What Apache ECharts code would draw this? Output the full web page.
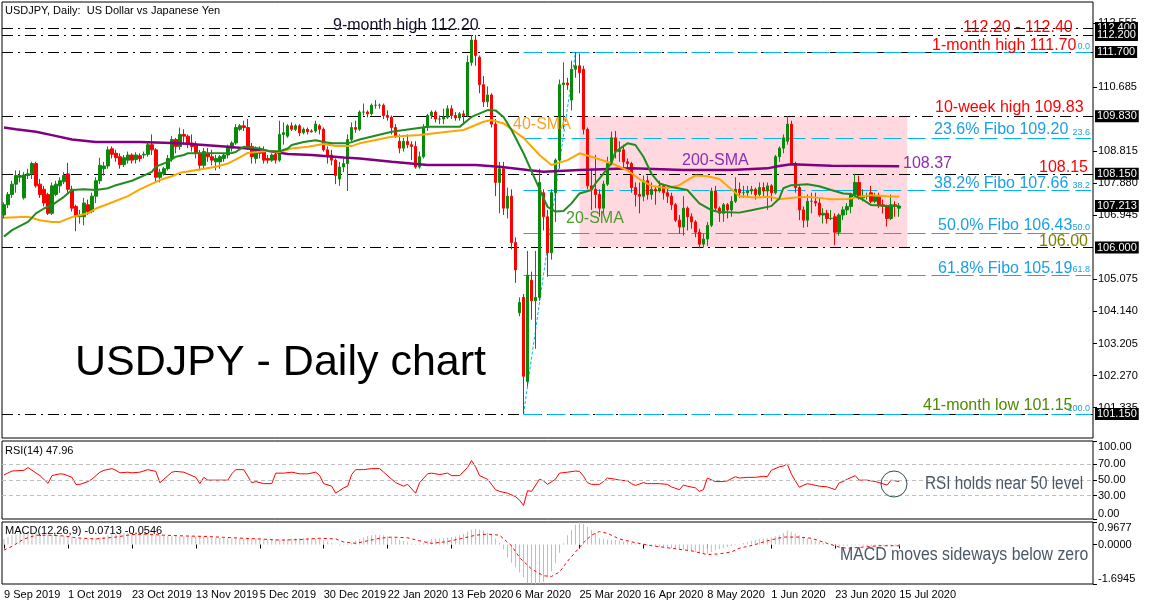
<!DOCTYPE html>
<html><head><meta charset="utf-8">
<script src="https://cdn.jsdelivr.net/npm/echarts@6/dist/echarts.min.js"></script>
<style>html,body{margin:0;padding:0;background:#fff;}#c{width:1149px;height:607px;}</style>
</head><body><div id="c"></div>
<script>
// ---------------- DATA ----------------
// daily candles: [open, close, low, high]
const candles = [
[106.95,107.25,106.85,107.32],[107.25,107.55,107.15,107.62],[107.55,107.85,107.45,107.95],[107.85,108.10,107.60,108.25],[108.05,108.10,107.90,108.25],
[107.45,108.12,107.40,108.20],[108.10,108.15,108.00,108.30],[108.15,108.45,108.00,108.50],[108.45,107.80,107.75,108.50],[107.85,107.55,107.45,108.00],
[107.70,107.30,107.20,107.80],[107.55,107.00,106.95,107.60],[107.00,107.80,106.95,107.90],[107.55,107.85,107.50,107.95],[107.80,107.95,107.60,108.05],
[107.92,108.10,107.85,108.20],[108.15,107.70,107.60,108.47],[107.70,107.15,107.05,107.80],[107.20,106.90,106.48,107.25],[106.90,106.95,106.70,107.10],
[106.90,107.30,106.65,107.45],[107.25,107.05,106.95,107.40],[107.05,107.50,107.00,107.60],[107.50,107.95,107.30,108.05],[107.95,108.40,107.85,108.62],
[108.30,108.38,108.10,108.50],[108.38,108.85,108.30,108.95],[108.88,108.72,108.60,108.95],[108.75,108.62,108.50,108.85],[108.65,108.42,108.30,108.75],
[108.42,108.62,108.35,108.70],[108.55,108.70,108.45,108.80],[108.70,108.55,108.45,108.75],[108.57,108.70,108.45,108.78],[108.68,108.60,108.50,108.75],
[108.70,108.72,108.60,108.80],[108.72,109.00,108.65,109.10],[109.00,108.85,108.70,109.30],[108.85,108.05,107.90,108.90],[108.05,108.20,107.90,108.30],
[108.15,108.30,108.10,108.35],[108.30,108.60,108.25,108.70],[108.60,109.15,108.50,109.25],[109.15,108.95,108.75,109.20],[108.95,109.30,108.85,109.50],
[109.30,109.25,109.00,109.45],[109.25,109.05,108.90,109.30],[109.05,108.95,108.80,109.30],[109.00,108.75,108.60,109.10],[108.75,108.40,108.25,108.85],
[108.40,108.80,108.30,108.90],[108.75,108.65,108.50,108.90],[108.65,108.55,108.40,108.85],[108.50,108.60,108.25,108.70],[108.50,108.65,108.30,108.70],
[108.60,108.70,108.50,108.75],[108.70,108.95,108.60,109.00],[108.90,109.05,108.80,109.10],[109.05,109.50,109.00,109.60],[109.45,109.55,109.40,109.60],
[109.55,109.50,109.40,109.70],[109.50,108.90,108.85,109.75],[108.95,108.65,108.45,109.05],[108.60,108.85,108.45,108.95],[108.85,108.75,108.60,108.95],
[108.78,108.55,108.45,108.95],[108.60,108.55,108.45,108.70],[108.55,108.70,108.50,108.75],[108.72,108.55,108.45,108.80],[108.55,109.30,108.50,109.70],
[109.30,109.35,109.00,109.65],[109.25,109.55,109.20,109.60],[109.55,109.45,109.40,109.65],[109.45,109.55,109.40,109.60],[109.55,109.35,109.25,109.60],
[109.35,109.45,109.30,109.50],[109.45,109.38,109.30,109.50],[109.40,109.38,109.35,109.45],[109.40,109.60,109.35,109.70],[109.55,109.45,109.30,109.60],
[109.45,108.85,108.80,109.50],[108.85,108.65,108.45,108.95],[108.70,108.55,108.40,108.85],[108.55,108.10,107.85,108.60],[108.00,108.35,107.80,108.50],
[108.35,108.45,108.20,108.60],[108.45,109.15,107.65,109.30],[109.15,109.50,109.10,109.65],[109.50,109.45,109.35,109.70],[109.45,109.95,109.40,110.00],
[109.95,109.95,109.85,110.20],[109.95,109.90,109.80,110.00],[109.90,110.15,109.85,110.20],[110.15,110.15,110.05,110.30],[110.15,110.15,110.05,110.20],
[110.15,109.85,109.75,110.20],[109.85,109.80,109.70,110.00],[109.80,109.50,109.30,109.85],[109.50,109.25,109.20,109.60],[109.10,108.90,108.75,109.30],
[108.90,109.10,108.80,109.20],[109.10,109.00,108.90,109.30],[109.00,108.95,108.55,109.10],[108.95,108.35,108.30,109.10],[108.35,108.65,108.30,108.80],
[108.65,109.50,108.60,109.60],[109.50,109.85,109.40,109.90],[109.85,109.95,109.75,110.00],[109.95,109.75,109.65,110.00],[109.75,109.75,109.60,109.85],
[109.75,109.80,109.60,110.05],[109.80,110.05,109.75,110.15],[110.05,109.85,109.75,110.15],[109.85,109.78,109.70,109.95],[109.78,109.90,109.70,109.95],
[109.90,109.85,109.60,110.00],[109.85,111.40,109.80,111.60],[111.40,112.05,111.30,112.20],[112.05,111.60,111.30,112.20],[111.55,110.75,110.50,111.60],
[110.75,110.25,110.10,111.00],[110.25,110.45,110.10,110.70],[110.45,109.60,109.50,110.50],[109.60,107.90,107.50,109.75],[107.90,108.30,107.00,108.50],
[108.30,107.15,106.95,108.50],[107.15,107.50,106.85,107.75],[107.50,106.15,105.95,107.70],[106.15,105.35,104.97,106.30],[104.10,104.40,104.00,104.55],
[104.55,102.25,101.15,104.65],[102.10,105.20,101.95,105.90],[105.05,104.45,103.90,105.30],[104.45,104.55,103.05,105.90],[104.55,107.90,104.45,108.30],
[107.60,106.90,106.50,107.70],[106.90,105.85,105.15,107.10],[105.85,107.60,105.65,107.70],[107.60,108.55,106.75,108.60],[108.55,110.75,108.30,110.90],
[110.75,110.80,109.45,111.40],[110.80,110.75,110.60,110.95],[110.30,111.20,110.00,111.45],[111.20,111.30,110.95,111.70],[111.30,111.10,110.50,111.66],
[111.20,109.45,109.30,111.30],[109.45,107.80,107.70,109.50],[107.80,107.70,107.10,108.30],[107.70,107.55,107.15,108.70],[107.55,107.15,106.90,107.70],
[107.15,107.85,106.95,107.95],[107.85,108.45,107.80,108.65],[108.45,109.20,108.40,109.38],[109.20,108.80,108.60,109.40],[108.80,108.85,108.50,109.10],
[108.85,108.50,108.30,109.00],[108.50,108.45,108.30,108.60],[108.45,107.75,107.60,108.50],[107.75,107.55,107.20,107.90],[107.55,107.50,107.00,107.90],
[107.50,107.95,107.35,108.10],[107.95,107.55,107.40,108.10],[107.55,107.70,107.40,107.90],[107.70,107.65,107.25,107.80],[107.65,107.80,107.60,107.95],
[107.80,107.60,107.40,107.85],[107.60,107.50,107.30,107.75],[107.50,107.25,107.10,107.60],[107.25,106.80,106.75,107.30],[106.80,106.60,106.40,106.95],
[106.60,107.15,106.35,107.50],[107.15,106.90,106.50,107.20],[106.90,106.75,106.55,107.00],[106.75,106.45,106.30,106.80],[106.45,106.10,105.98,106.55],
[106.10,106.25,106.00,106.40],[106.25,106.65,106.05,106.75],[106.65,107.65,106.60,107.75],[107.65,107.15,107.05,107.80],[107.15,107.00,106.75,107.20],
[107.00,107.25,106.75,107.30],[107.25,107.10,106.85,107.30],[107.10,107.35,106.90,107.50],[107.35,107.70,107.30,108.05],[107.70,107.60,107.45,107.90],
[107.60,107.60,107.45,107.80],[107.60,107.65,107.50,107.80],[107.65,107.70,107.55,107.80],[107.70,107.55,107.40,107.75],[107.55,107.75,107.50,107.90],
[107.75,107.65,107.50,107.90],[107.65,107.80,107.10,107.90],[107.80,107.60,107.35,107.85],[107.60,108.65,107.55,108.70],[108.65,108.90,108.50,108.95],
[108.90,109.20,108.75,109.30],[109.10,109.60,109.00,109.83],[109.60,108.45,108.40,109.70],[108.45,107.75,107.60,108.50],[107.75,107.10,106.80,107.85],
[107.10,106.80,106.58,107.20],[106.80,107.35,106.60,107.55],[107.35,107.35,107.00,107.60],[107.35,107.30,107.20,107.60],[107.30,106.95,106.90,107.45],
[106.95,107.00,106.70,107.15],[107.00,106.85,106.70,107.10],[106.85,106.85,106.80,107.10],[106.90,106.45,106.07,107.00],[106.45,106.95,106.35,107.00],
[106.95,107.10,106.80,107.20],[107.10,107.20,106.95,107.30],[107.20,107.55,107.00,107.60],[107.55,107.90,107.45,108.15],[107.90,107.45,107.40,108.10],
[107.45,107.50,107.35,107.70],[107.50,107.50,107.40,107.60],[107.60,107.35,107.30,107.80],[107.35,107.50,107.30,107.60],[107.50,107.25,107.15,107.60],
[107.25,107.20,107.00,107.40],[107.20,106.85,106.62,107.25],[106.85,107.25,106.80,107.55],[107.25,107.20,106.90,107.35],[107.15,107.213,106.90,107.30]
];
// moving averages: [bar index, value]
const sma20 = [[0,106.32],[2,106.51],[6,106.75],[8,107.0],[10,107.14],[12,107.24],[15,107.48],[17,107.68],[20,107.7],[23,107.68],[26,107.73],[28,107.82],[32,107.95],[34,108.05],[37,108.21],[38,108.36],[41,108.5],[43,108.65],[45,108.7],[46,108.75],[57,108.76],[58,108.79],[60,108.94],[64,108.89],[66,108.82],[69,108.81],[71,108.89],[72,108.99],[75,109.08],[78,109.13],[80,109.08],[82,109.04],[86,109.04],[89,109.15],[97,109.38],[106,109.52],[114,109.52],[117,109.81],[121,110.01],[123,110.0],[125,109.81],[127,109.43],[130,108.75],[133,107.97],[135,107.44],[136,107.19],[138,107.05],[140,107.07],[142,107.29],[144,107.58],[147,107.68],[148,107.87],[150,108.16],[152,108.46],[153,108.79],[156,109.04],[158,108.99],[160,108.65],[162,108.16],[164,107.87],[167,107.77],[171,107.68],[174,107.29],[177,107.09],[179,107.04],[184,107.02],[187,107.09],[192,107.21],[194,107.43],[195,107.73],[197,107.82],[201,107.85],[204,107.79],[207,107.68],[210,107.58],[212,107.56],[215,107.39],[217,107.24],[221,107.21],[224,107.21]];
const sma40 = [[0,106.87],[6,106.9],[9,106.8],[12,106.75],[14,106.75],[17,106.89],[21,107.0],[23,107.14],[26,107.27],[31,107.5],[34,107.7],[39,107.97],[42,108.08],[44,108.18],[49,108.28],[53,108.36],[56,108.45],[59,108.63],[61,108.76],[66,108.82],[69,108.79],[72,108.89],[76,108.94],[80,109.02],[83,108.96],[87,108.96],[89,109.04],[97,109.23],[104,109.28],[111,109.38],[115,109.43],[120,109.67],[122,109.72],[125,109.62],[130,109.2],[134,108.7],[137,108.41],[141,108.55],[144,108.75],[147,108.65],[152,108.46],[156,108.25],[159,108.0],[162,107.8],[166,107.73],[169,107.82],[171,107.97],[173,108.1],[176,108.08],[179,108.0],[182,107.7],[184,107.5],[188,107.46],[192,107.48],[194,107.41],[198,107.46],[201,107.48],[204,107.45],[207,107.41],[211,107.42],[214,107.48],[217,107.53],[221,107.5],[224,107.48]];
const sma200 = [[0,109.5],[3,109.45],[8,109.38],[12,109.28],[17,109.15],[23,109.08],[34,109.08],[44,109.04],[50,108.99],[56,108.94],[61,108.89],[66,108.82],[71,108.73],[77,108.7],[85,108.63],[89,108.6],[97,108.5],[106,108.41],[118,108.41],[124,108.36],[131,108.26],[135,108.21],[144,108.26],[157,108.31],[170,108.26],[182,108.26],[191,108.31],[194,108.38],[197,108.43],[207,108.39],[224,108.37]];
// RSI(14): [bar index, value]
const rsi = [[0,56.5],[2,61.5],[5,62.4],[6,66],[8,59],[9,55.6],[11,45.7],[12,55.6],[14,57.9],[15,57.4],[17,53.4],[18,44.4],[19,44.4],[21,48],[22,51],[24,60],[25,62.4],[27,64.6],[28,62.4],[29,59.2],[31,60],[32,59.2],[34,60],[36,63.3],[38,61],[39,46.6],[40,51],[42,60],[43,61],[45,60],[46,57.9],[48,53.4],[49,45.3],[50,53.4],[51,49.8],[53,49.8],[56,49.8],[57,57.9],[58,63.3],[60,63.3],[62,46.6],[63,48],[65,45.3],[67,45.3],[68,58.8],[70,58.8],[72,60],[74,57.9],[76,57.9],[78,60],[79,55.6],[80,45.3],[82,42.1],[83,33.1],[85,39.9],[86,42.1],[87,57],[88,63.3],[90,63.3],[92,64.6],[94,64.6],[95,60],[97,51],[98,46.6],[100,42.1],[101,44.4],[103,33.1],[104,46.6],[106,57.9],[107,58.8],[109,57],[111,58.8],[112,55.6],[114,55.6],[116,66],[117,74.9],[118,66.9],[119,55.6],[121,51],[123,37.6],[124,35.4],[126,33.1],[128,28.7],[129,24.2],[130,17.4],[131,36.3],[132,35.4],[134,51],[135,48.9],[136,44.4],[138,51],[139,58.8],[141,60],[143,61.5],[144,61],[145,55],[146,46.6],[147,44.4],[149,44.4],[150,48],[151,52.5],[153,51],[154,49.8],[156,48.9],[157,45.3],[158,43],[160,46.6],[161,45.3],[162,45.3],[164,45.3],[166,44.4],[167,41.2],[169,37.6],[170,43.5],[171,42.1],[173,39.9],[174,35.4],[175,37.6],[176,52.5],[178,48],[180,48],[181,48.9],[183,54.3],[184,52.5],[186,53.4],[188,53.4],[190,54.7],[191,54.3],[192,62.4],[194,66.9],[195,68],[196,70.4],[197,58],[198,48.9],[199,40.8],[201,45.3],[202,44.4],[204,42.1],[206,41.2],[208,37.6],[209,46.6],[210,48],[211,51],[213,55.6],[214,49.8],[216,49.8],[218,48],[219,46.6],[221,43.5],[222,49.8],[223,48.9],[224,47.96]];
// MACD(12,26,9) main line, one value per bar (drawn as histogram)
const macdHist = [0.24,0.32,0.40,0.44,0.48,0.50,0.52,0.51,0.49,0.48,0.45,0.42,0.40,0.39,0.38,0.37,0.34,0.30,0.27,0.25,
0.24,0.24,0.26,0.28,0.31,0.35,0.39,0.43,0.45,0.47,0.48,0.48,0.47,0.47,0.46,0.45,0.45,0.43,0.41,0.40,
0.38,0.37,0.36,0.36,0.35,0.36,0.37,0.37,0.36,0.35,0.34,0.32,0.30,0.29,0.28,0.27,0.27,0.27,0.27,0.27,
0.27,0.27,0.27,0.25,0.24,0.23,0.22,0.21,0.22,0.23,0.24,0.25,0.26,0.27,0.28,0.29,0.29,0.28,0.26,0.24,
0.19,0.13,0.08,0.01,-0.05,-0.02,0.03,0.08,0.16,0.24,0.30,0.37,0.40,0.43,0.42,0.40,0.36,0.31,0.27,0.21,
0.16,0.11,0.04,-0.02,0.03,0.08,0.16,0.24,0.25,0.26,0.27,0.30,0.32,0.35,0.40,0.46,0.56,0.63,0.68,0.65,
0.60,0.52,0.43,0.25,0.08,-0.20,-0.56,-0.78,-0.97,-1.20,-1.42,-1.66,-1.68,-1.6945,-1.69,-1.60,-1.40,-1.15,-0.80,-0.35,
0.05,0.40,0.62,0.85,0.9677,0.88,0.75,0.62,0.50,0.27,0.25,0.21,0.20,0.19,0.16,0.13,0.10,0.08,0.05,0.02,
0.00,-0.03,-0.05,-0.07,-0.09,-0.11,-0.13,-0.15,-0.16,-0.19,-0.22,-0.24,-0.28,-0.32,-0.36,-0.40,-0.40,-0.32,-0.24,-0.20,
-0.16,-0.11,-0.07,-0.03,0.02,0.07,0.12,0.16,0.20,0.24,0.25,0.27,0.30,0.36,0.40,0.50,0.60,0.55,0.47,0.40,
0.33,0.27,0.21,0.16,0.12,0.08,0.05,0.02,-0.05,-0.06,-0.05,-0.05,-0.04,-0.03,-0.04,-0.05,-0.06,-0.08,-0.08,-0.07,
-0.05,-0.08,-0.07,-0.07,-0.0713];
// MACD signal line: [bar index, value]
const macdSignal = [[0,-0.24],[2,-0.08],[5,0.24],[8,0.40],[11,0.40],[15,0.37],[18,0.29],[23,0.24],[28,0.32],[32,0.43],[36,0.45],[40,0.40],[45,0.37],[50,0.35],[55,0.31],[60,0.27],[64,0.24],[69,0.19],[74,0.21],[79,0.27],[83,0.24],[85,0.11],[88,0.05],[91,0.16],[94,0.27],[97,0.32],[101,0.29],[104,0.16],[107,0.05],[111,0.13],[114,0.24],[118,0.40],[121,0.45],[124,0.40],[127,-0.05],[129,-0.56],[132,-1.05],[135,-1.34],[137,-1.37],[139,-1.18],[141,-0.72],[143,-0.32],[145,0.08],[147,0.40],[149,0.56],[151,0.48],[154,0.24],[158,0.08],[162,-0.05],[167,-0.16],[172,-0.27],[176,-0.43],[179,-0.40],[182,-0.32],[184,-0.16],[188,0],[191,0.16],[195,0.32],[199,0.32],[202,0.27],[206,0.05],[209,-0.11],[211,-0.16],[215,-0.11],[219,-0.05],[224,-0.0546]];

// axis tick labels
const dateTickLabels = ['9 Sep 2019','1 Oct 2019','23 Oct 2019','13 Nov 2019','5 Dec 2019','30 Dec 2019','22 Jan 2020','13 Feb 2020','6 Mar 2020','25 Mar 2020','16 Apr 2020','8 May 2020','1 Jun 2020','23 Jun 2020','15 Jul 2020'];
const dateTickStep = 16;
const priceTicks = [112.555,110.685,108.815,107.880,106.945,105.075,104.140,103.205,102.270,101.335];
const priceMarksA = [112.400,111.700,108.150,106.000];
const priceMarksB = [112.200,109.830,107.213,101.150];
const rsiTicksMid = [70,50,30], rsiTickTop = [100], rsiTickBottom = [0];
const rsiLevels = [70,50,30];
const macdTickMid = [0], macdTickTop = [0.9677], macdTickBottom = [-1.6945];

// annotated levels
const keyLevels = [112.40,112.20,111.70,109.83,108.15,106.00,101.15];
const fiboLevels = [{r:'0.0',p:111.70},{r:'23.6',p:109.20},{r:'38.2',p:107.66},{r:'50.0',p:106.43},{r:'61.8',p:105.19},{r:'100.0',p:101.15}];
const fiboLow = {i:130,p:101.15}, fiboHigh = {i:143,p:111.70};
const rangeBox = {from:144,to:226,top:109.83,bottom:106.00};

// ---------------- CHART ----------------
const N_SLOTS = 273;
const cats = Array.from({length:N_SLOTS},(_,i)=>String(i));
const FONT = "'Liberation Sans', Arial, sans-serif";
const FIBO = '#00B4F0', FIBOTXT = '#1AA0E6', RED = '#FF0000';
const isDateTick = i => i % dateTickStep === 0 && i / dateTickStep < dateTickLabels.length;

function xAx(gi, show){
  return {type:'category', gridIndex:gi, data:cats, boundaryGap:true,
    axisLine:{show:false}, splitLine:{show:false},
    axisTick:{show:show, alignWithLabel:true, interval:(i)=>isDateTick(i), length:4, lineStyle:{color:'#000'}},
    axisLabel:{show:show, interval:(i)=>isDateTick(i), formatter:(v,i)=>dateTickLabels[Math.round(i/dateTickStep)]||'',
      align:'left', color:'#000', fontSize:11, fontFamily:FONT, margin:5}};
}
function yAx(gi, min, max, vals, fmt, extra){
  const ax = {type:'value', gridIndex:gi, position:'right', min:min, max:max,
    axisLine:{show:false}, splitLine:{show:false},
    axisTick:{show:true, customValues:vals, length:4, lineStyle:{color:'#000'}},
    axisLabel:{show:true, hideOverlap:false, customValues:vals, formatter:fmt, color:'#000', fontSize:11, fontFamily:FONT, margin:5}};
  if (extra) { Object.assign(ax.axisLabel, extra.label||{}); if (extra.tick===false) ax.axisTick.show=false; }
  return ax;
}
const PMIN = 100.45, PMAX = 113.16;
const f3 = v=>v.toFixed(3), f2 = v=>v.toFixed(2), f4 = v=>v.toFixed(4);
const boxed = {tick:false,label:{backgroundColor:'#000',color:'#fff',padding:[1,2,0,2],margin:2}};

const annotations = [
  {t:'USDJPY, Daily:  US Dollar vs Japanese Yen', x:5, y:11, c:'#000', s:11},
  {t:'9-month high 112.20', x:333, y:26, c:'#10102a', s:16},
  {t:'112.20 - 112.40', x:963, y:28, c:RED, s:16},
  {t:'1-month high 111.70', x:932, y:46, c:RED, s:16},
  {t:'10-week high 109.83', x:935, y:108, c:RED, s:16},
  {t:'23.6% Fibo 109.20', x:934, y:130, c:FIBOTXT, s:16},
  {t:'40-SMA', x:513, y:125, c:'#FFA020', s:16},
  {t:'200-SMA', x:682, y:161, c:'#8E2CB0', s:16},
  {t:'108.37', x:903, y:164, c:'#8E2CB0', s:16},
  {t:'108.15', x:1039, y:168, c:RED, s:16},
  {t:'38.2% Fibo 107.66', x:934, y:184, c:FIBOTXT, s:16},
  {t:'20-SMA', x:566, y:219, c:'#4C9A2A', s:16},
  {t:'50.0% Fibo 106.43', x:938, y:226, c:FIBOTXT, s:16},
  {t:'106.00', x:1039, y:242, c:'#7A8000', s:16},
  {t:'61.8% Fibo 105.19', x:938, y:269, c:FIBOTXT, s:16},
  {t:'USDJPY - Daily chart', x:75, y:363, c:'#000', s:43},
  {t:'41-month low 101.15', x:923, y:406, c:'#4E8A00', s:16},
  {t:'RSI(14) 47.96', x:5, y:451, c:'#000', s:11},
  {t:'RSI holds near 50 level', x:925, y:484, c:'#4A5866', s:18, narrow:0.85},
  {t:'MACD(12,26,9) -0.0713 -0.0546', x:5, y:531, c:'#000', s:11},
  {t:'MACD moves sideways below zero', x:840, y:555, c:'#4A5866', s:18, narrow:0.88}
];

const chart = echarts.init(document.getElementById('c'), null, {renderer:'canvas'});
const gridStyle = {show:true, borderColor:'#000', borderWidth:1, backgroundColor:'rgba(0,0,0,0)'};
const option = {
  animation:false,
  backgroundColor:'#fff',
  grid:[
    Object.assign({left:2, top:2, width:1091, height:436}, gridStyle),
    Object.assign({left:2, top:441, width:1091, height:78}, gridStyle),
    Object.assign({left:2, top:522, width:1091, height:62}, gridStyle)
  ],
  xAxis:[xAx(0,false), xAx(1,false), xAx(2,true)],
  yAxis:[
    yAx(0,PMIN,PMAX,priceTicks,f3),
    yAx(0,PMIN,PMAX,priceMarksA,f3,boxed),
    yAx(0,PMIN,PMAX,priceMarksB,f3,boxed),
    yAx(1,0,100,rsiTicksMid,f2),
    yAx(1,0,100,rsiTickTop,f2,{label:{verticalAlign:'top'}}),
    yAx(1,0,100,rsiTickBottom,f2,{label:{verticalAlign:'bottom'}}),
    yAx(2,-1.6945,0.9677,macdTickMid,f4),
    yAx(2,-1.6945,0.9677,macdTickTop,f4,{label:{verticalAlign:'top'}}),
    yAx(2,-1.6945,0.9677,macdTickBottom,f4,{label:{verticalAlign:'bottom'}})
  ],
  series:[
    {type:'line', name:'box', xAxisIndex:0, yAxisIndex:0, data:[], z:1, silent:true,
      markArea:{silent:true, itemStyle:{color:'#FFD8E0'},
        data:[[{xAxis:rangeBox.from, yAxis:rangeBox.top},{xAxis:rangeBox.to, yAxis:rangeBox.bottom}]]}},
    {type:'candlestick', name:'USDJPY', xAxisIndex:0, yAxisIndex:0, data:candles, barWidth:3, z:3,
      itemStyle:{color:'#0A8A0A', color0:'#FF0000', borderColor:'#0A8A0A', borderColor0:'#FF0000', borderWidth:1},
      markLine:{silent:true, symbol:['none','none'], label:{show:false}, z:2,
        data:[].concat(
          keyLevels.map(v=>({yAxis:v, lineStyle:{color:'#000', width:1, type:[11,5,2,5]}})),
          fiboLevels.map(f=>[
            {coord:[fiboLow.i, f.p], lineStyle:{color:FIBO, width:1, type:[18,6]},
              label:{show:true, position:'insideEndTop', formatter:f.r, color:FIBOTXT, fontSize:9, fontFamily:FONT, distance:1}},
            {coord:[N_SLOTS-1, f.p]}]),
          [[{coord:[fiboLow.i, fiboLow.p], lineStyle:{color:FIBO, width:1, type:[3,2]}},{coord:[fiboHigh.i, fiboHigh.p]}]]
        )}},
    {type:'line', name:'SMA200', xAxisIndex:0, yAxisIndex:0, data:sma200, showSymbol:false, z:4,
      lineStyle:{color:'#800080', width:2.5}},
    {type:'line', name:'SMA40', xAxisIndex:0, yAxisIndex:0, data:sma40, showSymbol:false, z:4,
      lineStyle:{color:'#FFA500', width:2}},
    {type:'line', name:'SMA20', xAxisIndex:0, yAxisIndex:0, data:sma20, showSymbol:false, z:4,
      lineStyle:{color:'#1E8C1E', width:2}},
    {type:'line', name:'RSI', xAxisIndex:1, yAxisIndex:3, data:rsi, showSymbol:false,
      lineStyle:{color:'#FF0000', width:1},
      markLine:{silent:true, symbol:['none','none'], label:{show:false},
        lineStyle:{color:'#C0C0C0', width:1, type:[4,3]}, data:rsiLevels.map(v=>({yAxis:v}))}},
    {type:'bar', name:'MACD', xAxisIndex:2, yAxisIndex:6, data:macdHist, barWidth:1,
      itemStyle:{color:'#BDBDBD'}},
    {type:'line', name:'Signal', xAxisIndex:2, yAxisIndex:6, data:macdSignal, showSymbol:false,
      lineStyle:{color:'#FF0000', width:1, type:[3,3]}}
  ],
  graphic:{elements:
    annotations.map(a=>({type:'text', z:100, silent:true, x:a.x, y:a.y, scaleX:a.narrow||1,
      style:{text:a.t, x:0, y:0, fill:a.c, font:a.s+'px '+FONT, verticalAlign:'middle', align:'left'}}))
    .concat([{type:'circle', z:100, silent:true, shape:{cx:894, cy:484, r:13},
      style:{fill:'none', stroke:'#2F4F4F', lineWidth:1}}])
  }
};
chart.setOption(option);
</script>
</body></html>
